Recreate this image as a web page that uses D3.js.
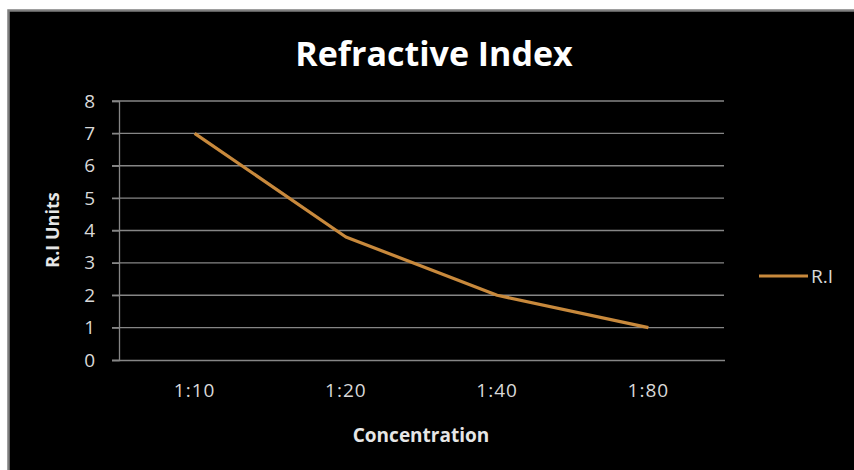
<!DOCTYPE html>
<html><head><meta charset="utf-8">
<script src="https://cdn.jsdelivr.net/npm/d3@7"></script>
<style>html,body{margin:0;padding:0;background:#fff;}svg{display:block;}</style>
</head><body>
<svg id="c" width="854" height="470"></svg>
<script>
const categories = ["1:10", "1:20", "1:40", "1:80"];
const riValues = [7.0, 3.8, 2.0, 1.0];
const yTicks = [0, 1, 2, 3, 4, 5, 6, 7, 8];
const seriesName = "R.I";

const svg = d3.select("#c");
const W = 854, H = 470;
svg.append("rect").attr("x", 0).attr("y", 0).attr("width", W).attr("height", H).attr("fill", "#fff");
svg.append("rect").attr("x", 8.5).attr("y", 10.5).attr("width", W).attr("height", H)
  .attr("fill", "#000").attr("stroke", "#7f7f7f").attr("stroke-width", 2.5);

const m = {l: 119, r: 724, t: 101, b: 360};
const x = d3.scaleBand().domain(categories).range([m.l, m.r]);
const y = d3.scaleLinear().domain([0, 8]).range([m.b, m.t]);
const font = "'Open Sans', 'Noto Sans', sans-serif";

// gridlines
svg.append("g").selectAll("line").data(yTicks.filter(d => d > 0)).join("line")
  .attr("x1", m.l - 7).attr("x2", m.r).attr("y1", d => y(d)).attr("y2", d => y(d))
  .attr("stroke", "#868686").attr("stroke-width", 1.3);

// y axis
const ya = svg.append("g").attr("transform", `translate(${m.l},0)`)
  .call(d3.axisLeft(y).tickValues(yTicks).tickSize(7).tickPadding(17));
ya.attr("font-size", null).attr("font-family", null);
ya.select(".domain").attr("stroke", "#868686").attr("stroke-width", 1.3);
ya.selectAll(".tick line").attr("stroke", "#868686").attr("stroke-width", 1.3);
ya.selectAll(".tick text").attr("fill", "#d9d9d9").attr("font-family", font).attr("font-size", 19);

// x axis
const xa = svg.append("g").attr("transform", `translate(0,${m.b})`)
  .call(d3.axisBottom(x).tickSize(0).tickPadding(24));
xa.attr("font-size", null).attr("font-family", null);
xa.select(".domain").attr("d", `M${m.l - 7},0.5H${m.r + 1}`).attr("stroke", "#868686").attr("stroke-width", 1.3);
xa.selectAll(".tick text").attr("fill", "#d9d9d9").attr("font-family", font).attr("font-size", 19)
  .attr("letter-spacing", 1);

// line
const line = d3.line().x((d, i) => x(categories[i]) + x.bandwidth() / 2).y(d => y(d));
svg.append("path").datum(riValues).attr("d", line).attr("fill", "none")
  .attr("stroke", "#c8893c").attr("stroke-width", 3.2).attr("stroke-linejoin", "round");

// title
svg.append("text").attr("x", 434).attr("y", 66).attr("text-anchor", "middle")
  .attr("fill", "#fff").attr("font-family", font).attr("font-weight", "bold").attr("font-size", 34)
  .text("Refractive Index");

// axis titles
svg.append("text").attr("transform", "translate(59,230) rotate(-90)").attr("text-anchor", "middle")
  .attr("fill", "#e6e6e6").attr("font-family", font).attr("font-weight", "bold").attr("font-size", 18)
  .text("R.I Units");
svg.append("text").attr("x", 421).attr("y", 442).attr("text-anchor", "middle")
  .attr("fill", "#e6e6e6").attr("font-family", font).attr("font-weight", "bold").attr("font-size", 19)
  .text("Concentration");

// legend
const lg = svg.append("g");
lg.append("line").attr("x1", 759).attr("x2", 808).attr("y1", 276).attr("y2", 276)
  .attr("stroke", "#c8893c").attr("stroke-width", 3.2);
lg.append("text").attr("x", 811).attr("y", 283).attr("fill", "#d9d9d9")
  .attr("font-family", font).attr("font-size", 19).text(seriesName);
</script>
</body></html>
